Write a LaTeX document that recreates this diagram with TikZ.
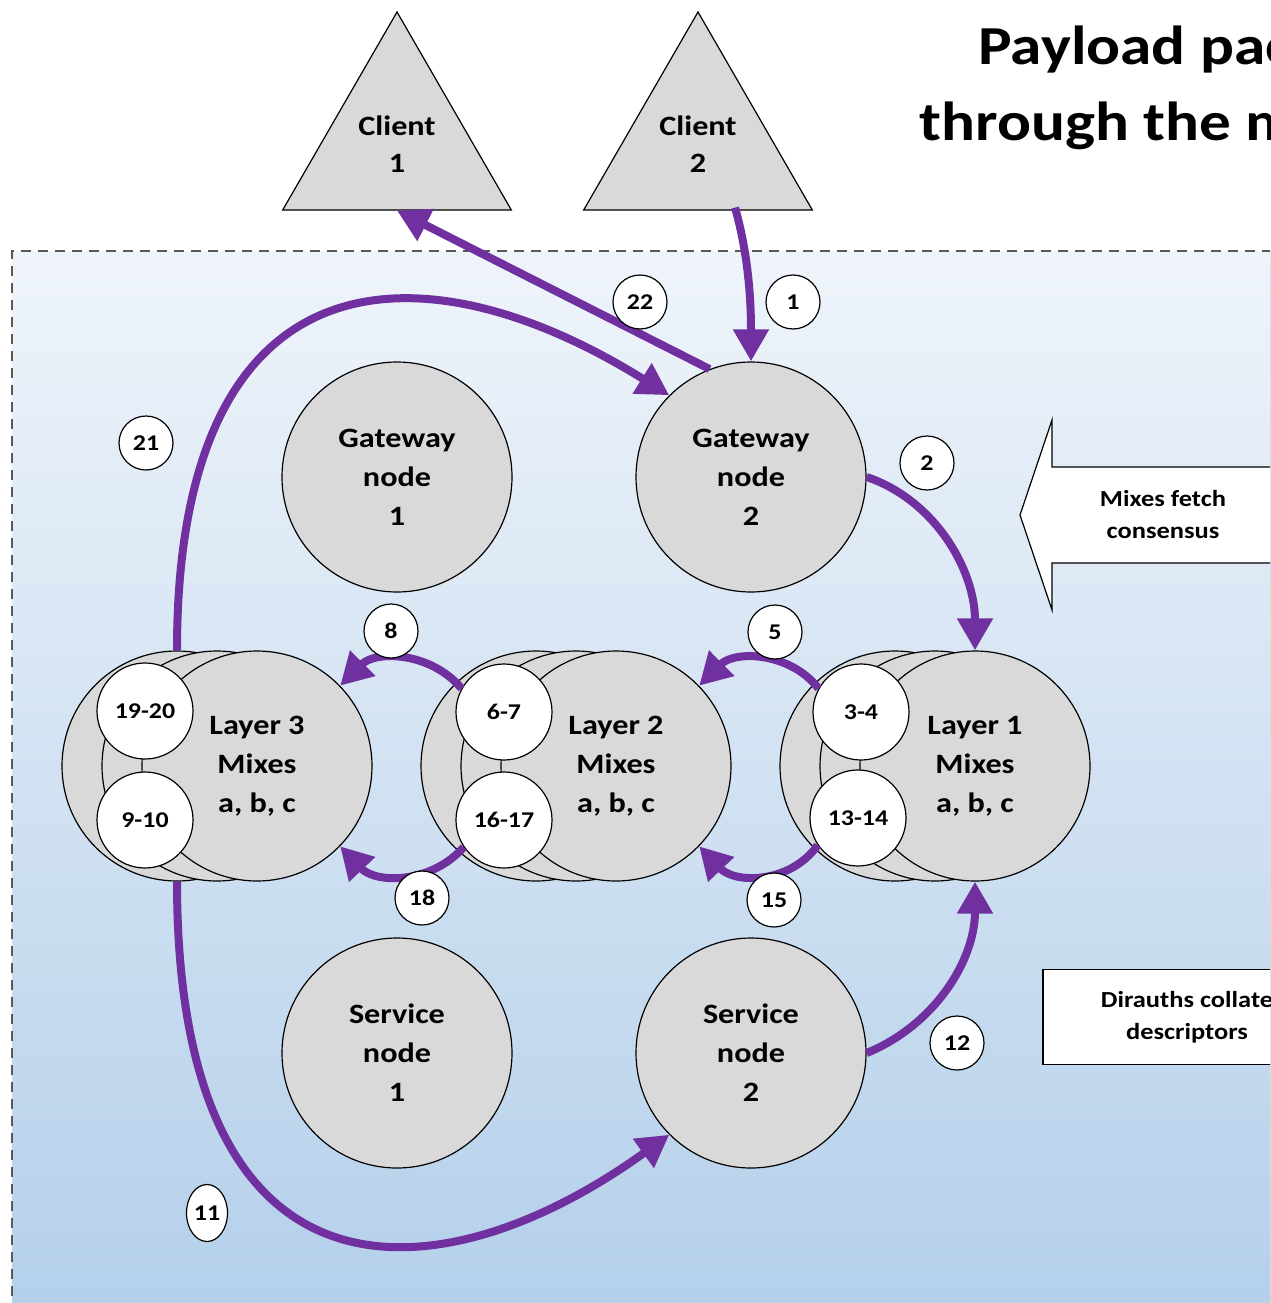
\documentclass[tikz,border=0pt]{standalone}
\usepackage{fontspec}
\setmainfont{Carlito}[FakeStretch=1.15]
\usetikzlibrary{arrows.meta,shapes.geometric}
\definecolor{pathpurple}{HTML}{7030A0}
\definecolor{nodegray}{HTML}{D9D9D9}
\definecolor{bgtop}{HTML}{EFF4FA}
\definecolor{bgbottom}{HTML}{B3CFEA}
\tikzset{
  bignode/.style={circle,draw,line width=1.2pt,fill=nodegray,minimum size=230pt,inner sep=0,align=center,font=\fontsize{28}{39}\selectfont\bfseries},
  hop/.style={circle,draw,line width=1.2pt,fill=white,minimum size=96pt,inner sep=0,font=\fontsize{22.5}{26}\selectfont\bfseries},
  stepno/.style={circle,draw,line width=1.2pt,fill=white,minimum size=54pt,inner sep=0,font=\fontsize{22.5}{26}\selectfont\bfseries},
  client/.style={regular polygon,regular polygon sides=3,draw,line width=1.2pt,fill=nodegray,minimum size=264pt,inner sep=0,align=center,font=\fontsize{28}{37}\selectfont\bfseries},
  sidenote/.style={align=center,font=\fontsize{23}{32}\selectfont\bfseries},
  heading/.style={anchor=base west,font=\fontsize{55}{60}\selectfont\bfseries},
  packet/.style={pathpurple,line width=8pt,-{Triangle[length=32pt,width=34pt]}}
}
\begin{document}
\begin{tikzpicture}[x=1pt,y=-1pt]
\useasboundingbox (0,0) rectangle (1270,1303);
\clip (0,0) rectangle (1270,1303);
% network area
\fill[top color=bgtop,bottom color=bgbottom] (12,251) rectangle (1300,1330);
\draw[line width=2pt,black!65,dash pattern=on 10pt off 7pt] (12,1330) -- (12,251) -- (1300,251);
% title
\node[heading] (title1) at (975,65) {Payload packets};
\node[heading] (title2) at (916,140) {through the mixnet};
% clients
\node[client] (c1) at (397,144) {Client\\1};
\node[client] (c2) at (698,144) {Client\\2};
% gateways and service nodes
\node[bignode] (gw1) at (397,477) {Gateway\\node\\1};
\node[bignode] (gw2) at (751,477) {Gateway\\node\\2};
\node[bignode] (sv1) at (397,1053) {Service\\node\\1};
\node[bignode] (sv2) at (751,1053) {Service\\node\\2};
% mix layers, three mixes each
\foreach \n/\cx in {3/257,2/616,1/975}{
  \node[bignode] (L\n c) at (\cx-80,766) {};
  \node[bignode] (L\n b) at (\cx-40,766) {};
}
\node[bignode] (L3) at (257,766) {Layer 3\\Mixes\\a, b, c};
\node[bignode] (L2) at (616,766) {Layer 2\\Mixes\\a, b, c};
\node[bignode] (L1) at (975,766) {Layer 1\\Mixes\\a, b, c};
\node[hop] (h1920) at (145,711) {19-20};
\node[hop] (h910) at (145,820) {9-10};
\node[hop] (h67) at (504,712) {6-7};
\node[hop] (h1617) at (504,820) {16-17};
\node[hop] (h34) at (861,712) {3-4};
\node[hop] (h1314) at (858,818) {13-14};
% directory side
\draw[line width=1.2pt,fill=white] (1300,467) -- (1052,467) -- (1052,420) -- (1020,515) -- (1052,610) -- (1052,563) -- (1300,563);
\node[sidenote] (fetch) at (1163,515) {Mixes fetch\\consensus};
\node[sidenote,draw,line width=1.2pt,fill=white,minimum width=288pt,minimum height=95pt] (dirauth) at (1187,1017) {Dirauths collate\\descriptors};
% packet path
\draw[packet] ([xshift=37pt,yshift=3pt]c2.side 2) .. controls (750,260) and (751,310) .. (gw2.north);
\draw[packet] (gw2.east) .. controls (935,500) and (975,570) .. (L1.north);
\draw[packet] (h34.151) .. controls (790,652) and (735,650) .. (L2.44);
\draw[packet] (h67.151) .. controls (431,652) and (376,650) .. (L3.44);
\draw[packet] (L3c.south) .. controls (177,1320) and (440,1300) .. (sv2.south west);
\draw[packet] (sv2.east) .. controls (935,1025) and (975,960) .. (L1.south);
\draw[packet] (h1314.214) .. controls (790,884) and (735,884) .. (L2.-44);
\draw[packet] (h1617.214) .. controls (431,884) and (376,884) .. (L3.-44);
\draw[packet] (L3c.north) .. controls (177,250) and (420,240) .. (gw2.north west);
\draw[packet] (gw2.111) -- (c1.side 2);
% step numbers
\node[stepno] (n1) at (793,302) {1};
\node[stepno] (n2) at (927,463) {2};
\node[stepno] (n5) at (775,632) {5};
\node[stepno] (n8) at (391,631) {8};
\node[stepno,ellipse,minimum size=0pt,minimum width=41pt,minimum height=57pt] (n11) at (207,1213) {11};
\node[stepno] (n12) at (957,1043) {12};
\node[stepno] (n15) at (774,900) {15};
\node[stepno] (n18) at (422,898) {18};
\node[stepno] (n21) at (146,443) {21};
\node[stepno] (n22) at (640,302) {22};
\end{tikzpicture}
\end{document}
